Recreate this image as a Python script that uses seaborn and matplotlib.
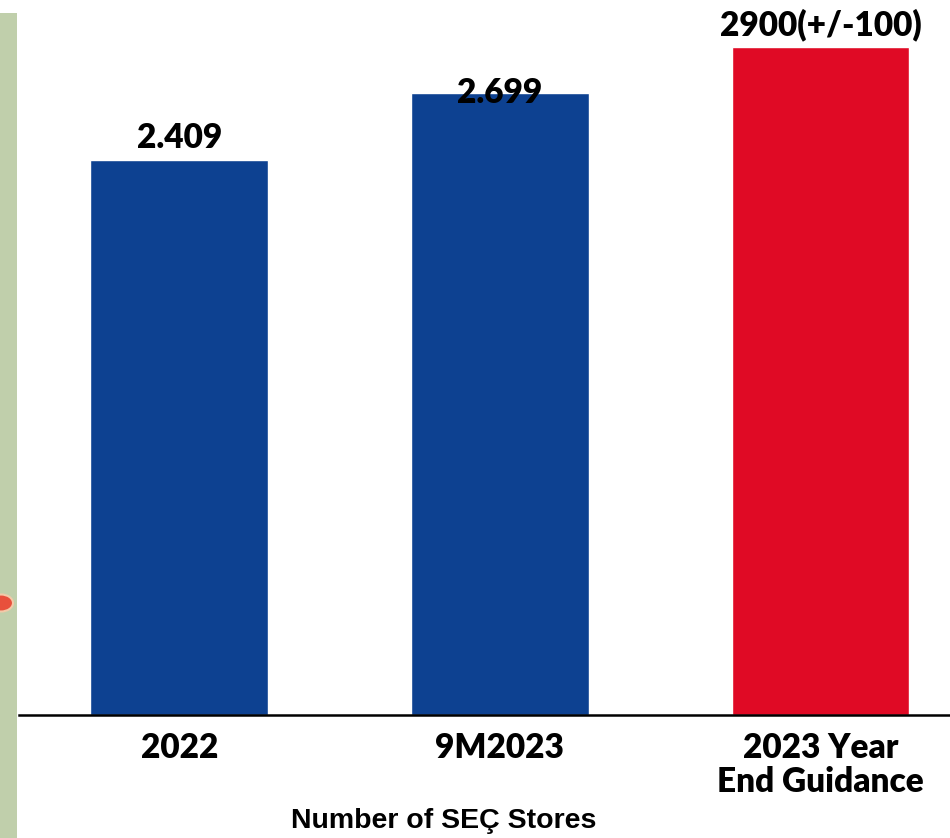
import matplotlib
matplotlib.use("Agg")
import matplotlib.pyplot as plt
import seaborn as sns
import pandas as pd
from matplotlib.patches import Rectangle, Ellipse

categories = ["2022", "9M2023", "2023 Year\nEnd Guidance"]
values = [2409, 2699, 2900]
value_labels = ["2.409", "2.699", "2900(+/-100)"]
label_offsets = [53, -42, 53]
bar_colors = ["#0d4191", "#0d4191", "#e00a25"]
xlabel = "Number of SEÇ Stores"

sns.set_theme(style="white")
plt.rcParams["font.family"] = ["Lato", "DejaVu Sans"]

W, H = 950, 838
fig = plt.figure(figsize=(W / 100, H / 100), dpi=100)
fig.patch.set_facecolor("white")

# left decorative strip
fig.add_artist(Rectangle((0, 0), 17 / W, (H - 13) / H, transform=fig.transFigure,
                         facecolor="#c0cfab", edgecolor="none", zorder=0))
fig.add_artist(Ellipse((1 / W, (H - 603) / H), 24 / W, 17 / H, transform=fig.transFigure,
                       facecolor="#e8503c", edgecolor="#f3c9a8", linewidth=1.5, zorder=1))

ax = fig.add_axes([19 / W, (H - 715) / H, 931 / W, 715 / H])
df = pd.DataFrame({"cat": categories, "val": values})
sns.barplot(data=df, x="cat", y="val", hue="cat", palette=bar_colors, width=0.555,
            legend=False, ax=ax, saturation=1)

ax.set_xlim(-0.5, 2.404)
ax.set_ylim(0, 3105)
ax.set_facecolor("none")
for s in ["top", "left", "right"]:
    ax.spines[s].set_visible(False)
ax.spines["bottom"].set_color("black")
ax.spines["bottom"].set_linewidth(1.8)
ax.set_yticks([])
ax.set_xlabel("")
ax.set_ylabel("")
ax.tick_params(axis="x", length=0, pad=12)
for t in ax.get_xticklabels():
    t.set_fontsize(24)
    t.set_fontweight("heavy")
    t.set_color("black")
    t.set_linespacing(1.1)

for i, (v, lab, off) in enumerate(zip(values, value_labels, label_offsets)):
    ax.text(i, v + off, lab, ha="center", va="baseline", fontsize=24,
            fontweight="heavy", color="black")

fig.text(444 / W, (H - 828) / H, xlabel, ha="center", va="baseline", color="black",
         fontsize=20.5, fontweight="bold", family=["Liberation Sans", "DejaVu Sans"])

fig.savefig("out.png", dpi=100)
